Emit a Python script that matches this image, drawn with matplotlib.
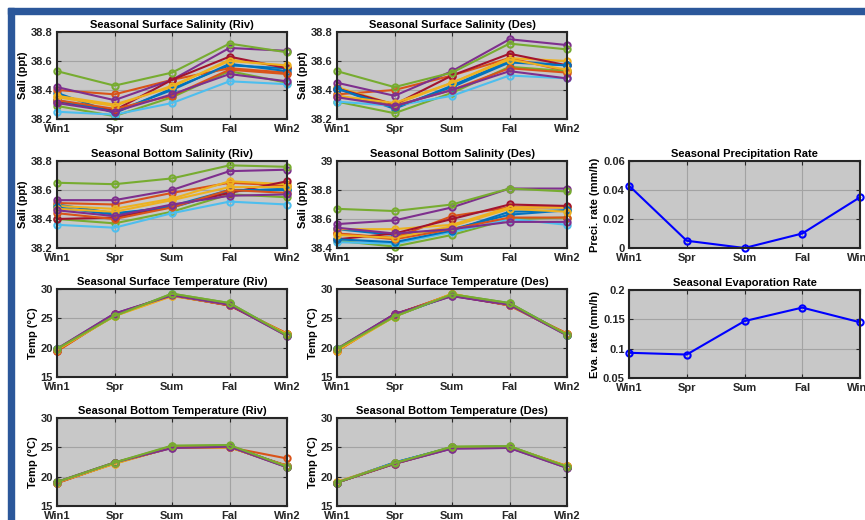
import numpy as np
import matplotlib.pyplot as plt
from matplotlib.patches import Rectangle
from matplotlib.ticker import FormatStrFormatter

plt.rcParams['font.family'] = ['Liberation Sans', 'DejaVu Sans']
plt.rcParams['font.weight'] = 'bold'

seasons = ['Win1', 'Spr', 'Sum', 'Fal', 'Win2']
colors = ['#0072BD', '#D95319', '#EDB120', '#7E2F8E', '#77AC30', '#4DBEEE', '#A2142F']

# surface salinity, river side (12 stations)
sal_surf_riv = [
    [38.38, 38.24, 38.41, 38.57, 38.55],
    [38.40, 38.37, 38.47, 38.55, 38.52],
    [38.36, 38.30, 38.42, 38.61, 38.56],
    [38.42, 38.33, 38.47, 38.69, 38.67],
    [38.29, 38.22, 38.35, 38.53, 38.45],
    [38.25, 38.23, 38.31, 38.46, 38.44],
    [38.32, 38.26, 38.47, 38.63, 38.55],
    [38.33, 38.25, 38.40, 38.58, 38.53],
    [38.33, 38.27, 38.36, 38.54, 38.51],
    [38.35, 38.29, 38.43, 38.60, 38.57],
    [38.31, 38.25, 38.37, 38.51, 38.46],
    [38.53, 38.43, 38.52, 38.72, 38.66],
]
sal_surf_des = [
    [38.41, 38.27, 38.43, 38.60, 38.57],
    [38.37, 38.40, 38.50, 38.62, 38.53],
    [38.42, 38.30, 38.45, 38.62, 38.60],
    [38.45, 38.36, 38.53, 38.75, 38.71],
    [38.32, 38.24, 38.38, 38.56, 38.53],
    [38.32, 38.29, 38.36, 38.50, 38.48],
    [38.41, 38.30, 38.50, 38.65, 38.57],
    [38.41, 38.28, 38.42, 38.59, 38.57],
    [38.36, 38.29, 38.40, 38.55, 38.52],
    [38.36, 38.31, 38.45, 38.61, 38.54],
    [38.35, 38.29, 38.40, 38.53, 38.48],
    [38.53, 38.42, 38.52, 38.72, 38.68],
]
sal_bot_riv = [
    [38.50, 38.44, 38.48, 38.59, 38.61],
    [38.51, 38.50, 38.58, 38.65, 38.63],
    [38.49, 38.47, 38.54, 38.66, 38.64],
    [38.53, 38.53, 38.60, 38.73, 38.74],
    [38.40, 38.37, 38.45, 38.57, 38.55],
    [38.36, 38.34, 38.44, 38.52, 38.50],
    [38.40, 38.41, 38.49, 38.58, 38.66],
    [38.48, 38.43, 38.49, 38.60, 38.60],
    [38.44, 38.40, 38.48, 38.60, 38.58],
    [38.47, 38.45, 38.53, 38.62, 38.62],
    [38.46, 38.42, 38.50, 38.56, 38.57],
    [38.65, 38.64, 38.68, 38.77, 38.76],
]
sal_bot_des = [
    [38.53, 38.49, 38.53, 38.63, 38.66],
    [38.50, 38.47, 38.62, 38.68, 38.68],
    [38.53, 38.53, 38.56, 38.68, 38.68],
    [38.565, 38.59, 38.68, 38.81, 38.81],
    [38.45, 38.41, 38.49, 38.60, 38.61],
    [38.44, 38.43, 38.51, 38.60, 38.56],
    [38.46, 38.50, 38.60, 38.70, 38.69],
    [38.46, 38.44, 38.52, 38.65, 38.66],
    [38.50, 38.46, 38.53, 38.61, 38.61],
    [38.49, 38.47, 38.55, 38.67, 38.65],
    [38.54, 38.50, 38.53, 38.58, 38.58],
    [38.67, 38.655, 38.70, 38.81, 38.79],
]
temp_surf_riv = [
    [19.7, 25.5, 29.0, 27.4, 22.2],
    [19.4, 25.6, 28.9, 27.2, 22.4],
    [19.6, 25.4, 28.8, 27.3, 22.3],
    [19.8, 25.8, 28.9, 27.3, 22.0],
    [19.8, 25.4, 29.2, 27.6, 22.1],
    [19.7, 25.5, 29.1, 27.5, 22.2],
    [19.5, 25.7, 28.9, 27.2, 22.3],
    [19.7, 25.5, 29.0, 27.4, 22.2],
    [19.4, 25.6, 28.9, 27.2, 22.4],
    [19.6, 25.4, 28.8, 27.3, 22.3],
    [19.8, 25.8, 28.9, 27.3, 22.0],
    [19.8, 25.4, 29.2, 27.6, 22.1],
]
temp_surf_des = [
    [19.7, 25.4, 29.0, 27.5, 22.2],
    [19.4, 25.6, 29.1, 27.2, 22.4],
    [19.5, 25.3, 29.2, 27.2, 22.3],
    [19.8, 25.7, 28.8, 27.3, 22.1],
    [19.8, 25.3, 29.1, 27.6, 22.2],
    [19.7, 25.4, 29.0, 27.5, 22.2],
    [19.6, 25.7, 28.9, 27.2, 22.3],
    [19.7, 25.4, 29.0, 27.5, 22.2],
    [19.4, 25.6, 29.1, 27.2, 22.4],
    [19.5, 25.3, 29.2, 27.2, 22.3],
    [19.8, 25.7, 28.8, 27.3, 22.1],
    [19.8, 25.3, 29.1, 27.6, 22.2],
]
temp_bot_riv = [
    [19.0, 22.3, 25.1, 25.2, 21.8],
    [18.9, 22.3, 25.0, 25.0, 23.1],
    [19.0, 22.2, 25.0, 25.0, 21.8],
    [19.1, 22.4, 24.9, 25.1, 21.6],
    [19.1, 22.4, 25.2, 25.3, 21.7],
    [19.0, 22.3, 25.1, 25.2, 21.7],
    [19.0, 22.3, 25.0, 25.1, 21.7],
    [19.0, 22.3, 25.1, 25.2, 21.8],
    [18.9, 22.3, 25.0, 25.0, 21.9],
    [19.0, 22.2, 25.0, 25.0, 21.8],
    [19.1, 22.4, 24.9, 25.1, 21.6],
    [19.1, 22.4, 25.3, 25.4, 21.7],
]
temp_bot_des = [
    [19.0, 22.4, 25.0, 25.1, 21.7],
    [19.0, 22.2, 24.9, 25.0, 21.8],
    [19.1, 22.3, 25.0, 25.1, 21.8],
    [19.0, 22.2, 24.8, 24.9, 21.5],
    [19.0, 22.3, 25.1, 25.2, 21.7],
    [19.0, 22.4, 25.0, 25.1, 21.7],
    [19.0, 22.3, 25.0, 25.0, 21.7],
    [19.0, 22.4, 25.0, 25.1, 21.7],
    [19.0, 22.2, 24.9, 25.0, 21.8],
    [19.1, 22.3, 25.0, 25.1, 21.8],
    [19.0, 22.2, 24.8, 24.9, 21.5],
    [19.0, 22.3, 25.1, 25.2, 21.7],
]
precip = [0.043, 0.005, 0.0, 0.010, 0.035]
evap = [0.093, 0.090, 0.147, 0.170, 0.145]

W, H = 865, 520
fig = plt.figure(figsize=(W / 100, H / 100), dpi=100)

# blue window frame from the screenshot
fig.patches.append(Rectangle((8 / W, 1 - 14 / H), 1, 6 / H, transform=fig.transFigure, color='#2B579A', zorder=0))
fig.patches.append(Rectangle((8 / W, 0), 6 / W, 1 - 8 / H, transform=fig.transFigure, color='#2B579A', zorder=0))


def make_ax(left, top, right, bottom):
    # pixel box -> figure fractions
    ax = fig.add_axes([left / W, 1 - bottom / H, (right - left) / W, (bottom - top) / H])
    ax.set_facecolor('#C8C8C8')
    ax.grid(True, color='#A3A3A3', linewidth=0.8)
    ax.set_axisbelow(True)
    for s in ax.spines.values():
        s.set_linewidth(1.5)
        s.set_color('#262626')
    ax.tick_params(direction='in', top=True, right=True, length=3, labelsize=8,
                   colors='#262626')
    ax.tick_params(axis='x', pad=3.5)
    ax.tick_params(axis='y', pad=3)
    ax.set_xlim(1, 5)
    ax.set_xticks(range(1, 6))
    ax.set_xticklabels(seasons)
    return ax


def plot_lines(ax, data):
    x = np.arange(1, 6)
    for i, row in enumerate(data):
        ax.plot(x, row, '-o', color=colors[i % 7], lw=1.5, ms=4.5, mfc='none', mew=1.5, clip_on=False)


col1 = (57, 287)
col2 = (337, 567)
col3 = (629, 860)
rows = [(32, 119), (161, 248), (289, 377), (418, 506)]

panels = [
    (col1, rows[0], sal_surf_riv, 'Seasonal Surface Salinity (Riv)', 'Sali (ppt)', (38.2, 38.8), [38.2, 38.4, 38.6, 38.8]),
    (col2, rows[0], sal_surf_des, 'Seasonal Surface Salinity (Des)', 'Sali (ppt)', (38.2, 38.8), [38.2, 38.4, 38.6, 38.8]),
    (col1, rows[1], sal_bot_riv, 'Seasonal Bottom Salinity (Riv)', 'Sali (ppt)', (38.2, 38.8), [38.2, 38.4, 38.6, 38.8]),
    (col2, rows[1], sal_bot_des, 'Seasonal Bottom Salinity (Des)', 'Sali (ppt)', (38.4, 39.0), [38.4, 38.6, 38.8, 39.0]),
    (col1, rows[2], temp_surf_riv, 'Seasonal Surface Temperature (Riv)', 'Temp (°C)', (15, 30), [15, 20, 25, 30]),
    (col2, rows[2], temp_surf_des, 'Seasonal Surface Temperature (Des)', 'Temp (°C)', (15, 30), [15, 20, 25, 30]),
    (col1, rows[3], temp_bot_riv, 'Seasonal Bottom Temperature (Riv)', 'Temp (°C)', (15, 30), [15, 20, 25, 30]),
    (col2, rows[3], temp_bot_des, 'Seasonal Bottom Temperature (Des)', 'Temp (°C)', (15, 30), [15, 20, 25, 30]),
]

for col, row, data, title, ylab, ylim, yt in panels:
    ax = make_ax(col[0], row[0], col[1], row[1])
    plot_lines(ax, data)
    ax.set_ylim(*ylim)
    ax.set_yticks(yt)
    ax.yaxis.set_major_formatter(FormatStrFormatter('%g'))
    ax.set_title(title, fontsize=8, fontweight='bold', pad=3)
    ax.set_ylabel(ylab, fontsize=8, fontweight='bold', labelpad=2)

# precipitation
ax = make_ax(col3[0], rows[1][0], col3[1], rows[1][1])
ax.plot(np.arange(1, 6), precip, '-o', color='#0000FF', lw=1.5, ms=4.5, mfc='none', mew=1.5, clip_on=False)
ax.set_ylim(0, 0.06)
ax.set_yticks([0, 0.02, 0.04, 0.06])
ax.yaxis.set_major_formatter(FormatStrFormatter('%g'))
ax.set_title('Seasonal Precipitation Rate', fontsize=8, fontweight='bold', pad=3)
ax.set_ylabel('Preci. rate (mm/h)', fontsize=8, fontweight='bold', labelpad=2)

# evaporation
ax = make_ax(col3[0], 290, col3[1], 378)
ax.plot(np.arange(1, 6), evap, '-o', color='#0000FF', lw=1.5, ms=4.5, mfc='none', mew=1.5, clip_on=False)
ax.set_ylim(0.05, 0.2)
ax.set_yticks([0.05, 0.1, 0.15, 0.2])
ax.yaxis.set_major_formatter(FormatStrFormatter('%g'))
ax.set_title('Seasonal Evaporation Rate', fontsize=8, fontweight='bold', pad=3)
ax.set_ylabel('Eva. rate (mm/h)', fontsize=8, fontweight='bold', labelpad=2)

plt.savefig('out.png', dpi=100)
